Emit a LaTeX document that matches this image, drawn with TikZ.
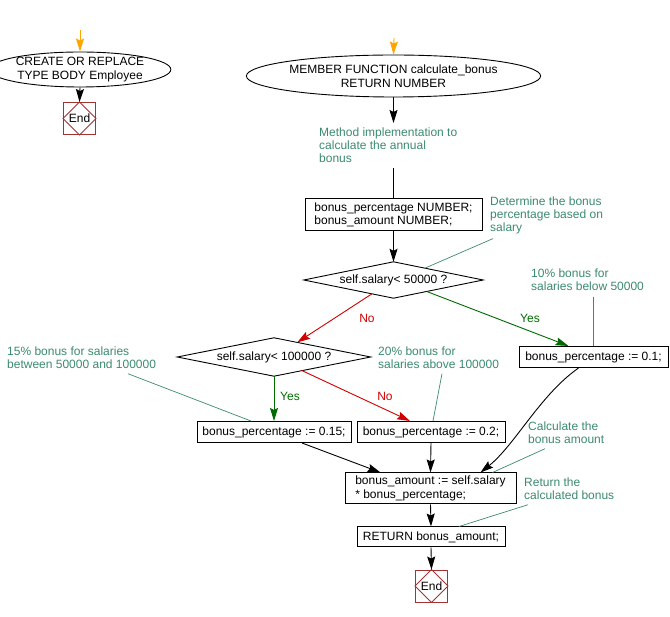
\documentclass[tikz,border=0pt]{standalone}
\usepackage{fontspec}
\setmainfont{Liberation Sans}
\usetikzlibrary{shapes.geometric,arrows.meta,calc}
\definecolor{cmt}{HTML}{3B8A6E}
\definecolor{okgreen}{HTML}{006A00}
\definecolor{nored}{HTML}{D00000}
\definecolor{endred}{HTML}{A33333}
\definecolor{startor}{HTML}{FFA500}
\begin{document}
\begin{tikzpicture}[x=1pt,y=-1pt,
  every node/.style={font=\fontsize{12}{13.5}\selectfont},
  box/.style={draw, line width=1pt, inner sep=0pt, align=left},
  startel/.style={draw, ellipse, line width=0.9pt, inner sep=0pt, align=center},
  decision/.style={inner sep=0pt},
  diamondline/.style={line width=0.9pt},
  endbox/.style={draw=endred, line width=0.9pt, minimum width=32pt, minimum height=32pt, inner sep=0pt},
  comment/.style={text=cmt, align=left, inner sep=0pt, anchor=north west, font=\fontsize{12}{13}\selectfont},
  cline/.style={draw=cmt, line width=0.7pt},
  flow/.style={draw, line width=0.9pt, -{Stealth[length=13pt,width=8pt,inset=2pt]}},
  plain/.style={draw, line width=0.9pt},
  yesflow/.style={flow, draw=okgreen, color=okgreen},
  noflow/.style={flow, draw=nored, color=nored},
  startflow/.style={flow, draw=startor, color=startor},
  yeslbl/.style={text=okgreen, inner sep=0pt},
  nolbl/.style={text=nored, inner sep=0pt}
]
\useasboundingbox (0,0) rectangle (670,617);

% left column
\coordinate (s1in) at (80,30);
\node[startel, minimum width=146pt, minimum height=35pt] (start1) at (80,69.5) {CREATE OR REPLACE\\TYPE BODY Employee};
\node[endbox] (end1) at (79.5,118.5) {End};
\draw[endred, line width=0.8pt] (end1.north) -- (end1.east) -- (end1.south) -- (end1.west) -- cycle;
\draw[startflow] (s1in) -- (start1.north);
\draw[flow] (start1.south) -- (end1.north);

% main column
\coordinate (s2in) at (394,38);
\node[startel, minimum width=232pt, minimum height=42pt] (start2) at (393.5,76) {MEMBER FUNCTION calculate\_bonus\\RETURN NUMBER};
\draw[startflow] (s2in) -- (start2.north);

\node[comment, inner sep=5pt] (c1) at (314,123) {Method implementation to\\calculate the annual\\bonus};
\draw[flow] (start2.south) -- (start2.south |- c1.north);

\node[box, minimum width=177pt, minimum height=32pt] (box1) at (393.5,215) {bonus\_percentage NUMBER;\\bonus\_amount NUMBER;};
\draw[plain] (start2.south |- c1.south) -- (box1.north);

\node[decision, minimum width=179pt, minimum height=36pt] (d1) at (393.5,280) {self.salary< 50000 ?};
\draw[diamondline] (d1.north) -- (d1.east) -- (d1.south) -- (d1.west) -- cycle;
\draw[flow] (box1.south) -- (d1.north);

\node[comment] (c2) at (490,197) {Determine the bonus\\percentage based on\\salary};
\draw[cline] ($(c2.south west)+(3,4)$) -- ($(d1.north)!0.35!(d1.east)$);

\node[box, minimum width=149pt, minimum height=21pt] (bp1) at (593.5,357) {bonus\_percentage := 0.1;};
\node[comment] (c3) at (531,268.5) {10\% bonus for\\salaries below 50000};
\draw[cline] (bp1.north |- c3.south) ++(0,6) -- (bp1.north);

\draw[yesflow] ($(d1.south)!0.37!(d1.east)$) -- ([xshift=-25pt]bp1.north);
\node[yeslbl] (y1) at (530,318) {Yes};

\node[decision, minimum width=193pt, minimum height=38pt] (d2) at (274,357) {self.salary< 100000 ?};
\draw[diamondline] (d2.north) -- (d2.east) -- (d2.south) -- (d2.west) -- cycle;
\draw[noflow] ($(d1.south)!0.24!(d1.west)$) -- ($(d2.north)!0.24!(d2.east)$);
\node[nolbl] (n1) at (367,318) {No};

\node[box, minimum width=154pt, minimum height=21pt] (bp15) at (274,432) {bonus\_percentage := 0.15;};
\node[box, minimum width=148pt, minimum height=21pt] (bp2) at (431,432) {bonus\_percentage := 0.2;};
\draw[yesflow] (d2.south) -- (bp15.north);
\node[yeslbl] (y2) at (290,396) {Yes};
\draw[noflow] ($(d2.south)!0.29!(d2.east)$) -- ([xshift=-21pt]bp2.north);
\node[nolbl] (n2) at (385,396) {No};

\node[comment] (c4) at (7,346.5) {15\% bonus for salaries\\between 50000 and 100000};
\draw[cline] ($(c4.south west)+(121,5)$) -- ([xshift=-23pt]bp15.north);
\node[comment] (c5) at (378,346.5) {20\% bonus for\\salaries above 100000};
\draw[cline] ($(c5.south west)+(64,5)$) -- ([xshift=2pt]bp2.north);

\node[box, minimum width=171pt, minimum height=31pt] (ba) at (430.5,488.5) {bonus\_amount := self.salary\\* bonus\_percentage;};
\draw[flow] ([xshift=28pt]bp15.south) -- ([xshift=-50pt]ba.north);
\draw[flow] (bp2.south) -- (ba.north);
\draw[flow] ([xshift=-15pt]bp1.south) .. controls (540,395) and (515,445) .. ([xshift=50pt]ba.north);

\node[comment] (c6) at (528,421.5) {Calculate the\\bonus amount};
\draw[cline] ($(c6.south west)+(17,5)$) -- ([xshift=62pt]ba.north);

\node[box, minimum width=148pt, minimum height=20pt] (ret) at (431,537) {RETURN bonus\_amount;};
\draw[flow] (ba.south) -- (ret.north);
\node[comment] (c7) at (524,477.5) {Return the\\calculated bonus};
\draw[cline] ($(c7.south west)+(4,5)$) -- ([xshift=28pt]ret.north);

\node[endbox] (end2) at (431.5,586) {End};
\draw[endred, line width=0.8pt] (end2.north) -- (end2.east) -- (end2.south) -- (end2.west) -- cycle;
\draw[flow] (ret.south) -- (end2.north);
\end{tikzpicture}
\end{document}
